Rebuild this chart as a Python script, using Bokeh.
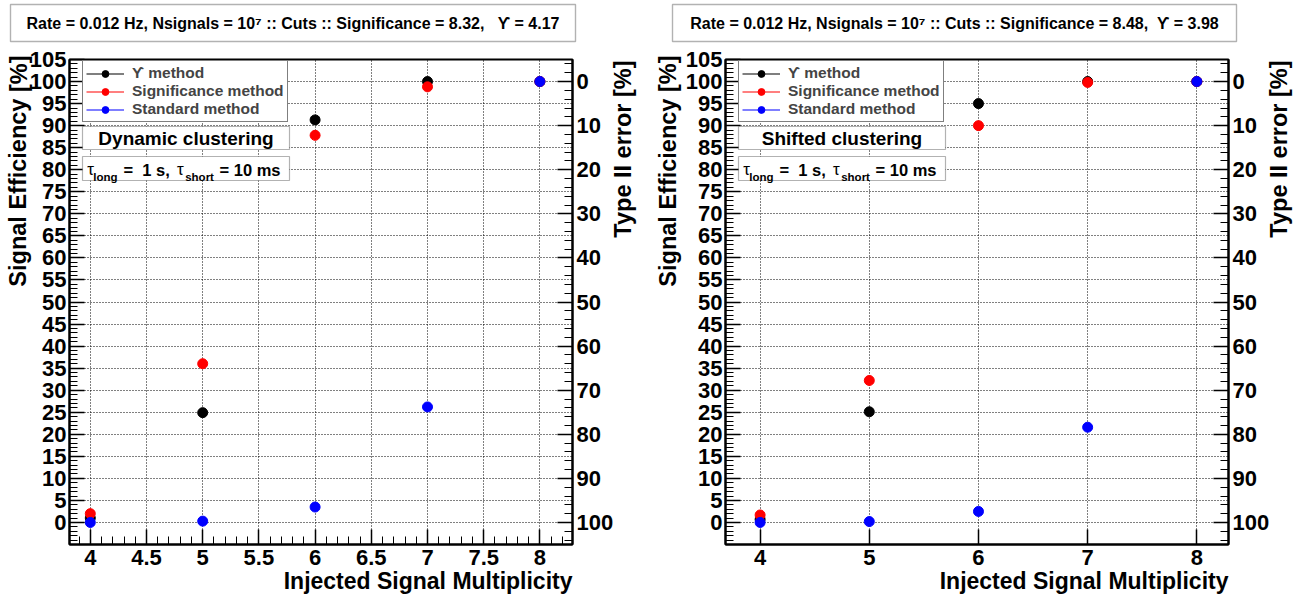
from bokeh.plotting import figure
from bokeh.models import (Range1d, LinearAxis, FixedTicker, Label, BoxAnnotation,
                          Legend, LegendItem, ColumnDataSource, GridBox, Plot)
from bokeh.embed import file_html
from bokeh.resources import INLINE

# ---------------------------------------------------------------- data
multiplicity = [4, 5, 6, 7, 8]

# Dynamic clustering: signal efficiency [%] per method
dyn_upsilon = [1.0, 24.9, 91.3, 100.0, 100.0]
dyn_significance = [2.0, 36.0, 87.8, 98.8, 100.0]
dyn_standard = [0.0, 0.3, 3.5, 26.2, 100.0]

# Shifted clustering: signal efficiency [%] per method
shf_upsilon = [0.7, 25.1, 95.0, 100.0, 100.0]
shf_significance = [1.7, 32.2, 90.0, 99.8, 100.0]
shf_standard = [0.0, 0.2, 2.5, 21.6, 100.0]

method_names = ["ϒ method", "Significance method", "Standard method"]
method_colors = ["black", "red", "blue"]

NBSP = "\u00a0"
dyn_title = "Rate = 0.012 Hz, Nsignals = 10⁷ :: Cuts :: Significance = 8.32," + NBSP * 3 + "ϒ = 4.17"
shf_title = "Rate = 0.012 Hz, Nsignals = 10⁷ :: Cuts :: Significance = 8.48," + NBSP * 2 + "ϒ = 3.98"
x_title = "Injected Signal Multiplicity"
y_title = "Signal Efficiency [%]"
err_title = "Type II error [%]"

# axis ticks
eff_major = list(range(0, 106, 5))
eff_minor = list(range(-5, 106, 1))
err_major = list(range(0, 101, 10))
err_minor = list(range(-4, 105, 2))
dyn_x_major = [4, 4.5, 5, 5.5, 6, 6.5, 7, 7.5, 8]
dyn_x_labels = ["4", "4.5", "5", "5.5", "6", "6.5", "7", "7.5", "8"]
dyn_x_minor = [round(3.9 + 0.1 * i, 1) for i in range(44)]
shf_x_major = [4, 5, 6, 7, 8]
shf_x_labels = ["4", "5", "6", "7", "8"]

FONT = "Liberation Sans"
W, H = 649, 601
FRAME_W, FRAME_H = 503, 485
TOP = 59
NAN = float("nan")
HAS_FRAME_ALIGN = hasattr(Plot, "frame_align")


def style_axis(ax, standoff):
    ax.axis_line_width = 2
    ax.axis_line_color = "black"
    ax.major_tick_in = 15
    ax.major_tick_out = 0
    ax.minor_tick_in = 8
    ax.minor_tick_out = 0
    ax.major_tick_line_width = 1.5
    ax.minor_tick_line_width = 1
    ax.major_label_text_font = FONT
    ax.major_label_text_font_style = "bold"
    ax.major_label_text_font_size = "22px"
    ax.major_label_text_color = "black"
    ax.major_label_standoff = standoff


def txt(p, x, y, text, size, bold=True, align="left", baseline="alphabetic",
        angle=0.0, units="screen"):
    p.add_layout(Label(x=x, y=y, x_units=units, y_units=units, text=text,
                       text_font=FONT, text_font_style="bold" if bold else "normal",
                       text_font_size=size, text_align=align, text_baseline=baseline,
                       angle=angle, text_color="black"))


def box(p, left, right, top, bottom, lw=1.2, units="screen"):
    p.add_layout(BoxAnnotation(left=left, right=right, top=top, bottom=bottom,
                               left_units=units, right_units=units,
                               top_units=units, bottom_units=units,
                               fill_color="white", fill_alpha=1.0,
                               line_color="black", line_width=lw))


def panel(left_border, x_lo, x_hi, x_major, x_labels, x_minor, series, cluster_text):
    p = figure(width=W, height=H, x_range=Range1d(x_lo, x_hi), y_range=Range1d(-5, 105),
               output_backend="svg", toolbar_location=None,
               min_border_left=left_border, min_border_right=W - left_border - FRAME_W,
               min_border_top=TOP, min_border_bottom=H - TOP - FRAME_H,
               outline_line_color="black", outline_line_width=2,
               background_fill_color="white", border_fill_color="white")
    if HAS_FRAME_ALIGN:
        p.frame_align = False

    xa = p.xaxis[0]
    xa.ticker = FixedTicker(ticks=x_major, minor_ticks=x_minor)
    xa.major_label_overrides = {float(v): s for v, s in zip(x_major, x_labels)}
    style_axis(xa, 5)

    ya = p.yaxis[0]
    ya.ticker = FixedTicker(ticks=eff_major, minor_ticks=eff_minor)
    ya.major_label_overrides = {float(v): str(v) for v in eff_major}
    style_axis(ya, 3)

    # Type II error = 100 - efficiency, increasing downwards
    p.extra_y_ranges = {"err": Range1d(start=105, end=-5)}
    ra = LinearAxis(y_range_name="err", ticker=FixedTicker(ticks=err_major, minor_ticks=err_minor))
    ra.major_label_overrides = {float(v): str(v) for v in err_major}
    style_axis(ra, 4)
    p.add_layout(ra, "right")

    for g in (p.xgrid[0], p.ygrid[0]):
        g.grid_line_color = "black"
        g.grid_line_dash = "1 2"
        g.grid_line_width = 1
        g.grid_line_alpha = 1.0
    p.xgrid[0].ticker = FixedTicker(ticks=x_major)
    p.ygrid[0].ticker = FixedTicker(ticks=eff_major)

    items = []
    for name, color, vals in zip(method_names, method_colors, series):
        src = ColumnDataSource(dict(x=multiplicity, y=vals))
        dots = p.scatter("x", "y", source=src, size=10, marker="circle",
                         fill_color=color, line_color=color)
        # line renderer that only contributes the legend stroke
        seg = p.line(x=[NAN], y=[NAN], line_color=color, line_width=1.2)
        items.append(LegendItem(label=name, renderers=[seg, dots]))

    leg = Legend(items=items, location=(13, FRAME_H - 63), orientation="vertical",
                 border_line_color="black", border_line_width=1.2,
                 background_fill_color="white", background_fill_alpha=1.0,
                 padding=3, spacing=0, margin=0, label_height=17, glyph_height=17,
                 glyph_width=38, label_standoff=8,
                 label_text_font=FONT, label_text_font_style="bold",
                 label_text_font_size="15.5px")
    p.add_layout(leg)

    # clustering caption
    box(p, 13, 220, FRAME_H - 67, FRAME_H - 90)
    txt(p, 116.5, FRAME_H - 78.5, cluster_text, "19px", align="center", baseline="middle")

    # time constants caption
    box(p, 13, 220, FRAME_H - 97, FRAME_H - 121)
    base = FRAME_H - 110.3
    sub = FRAME_H - 117.7
    txt(p, 17.7, base, "τ", "17px", bold=False)
    txt(p, 23.7, sub, "long", "11.5px")
    txt(p, 54.0, base, "=" + NBSP * 2 + "1 s,", "16.5px")
    txt(p, 107.4, base, "τ", "17px", bold=False)
    txt(p, 115.7, sub, "short", "11.5px")
    txt(p, 150.0, base, "= 10 ms", "16.5px")
    return p


left = panel(69, 3.815, 8.29, dyn_x_major, dyn_x_labels, dyn_x_minor,
             [dyn_upsilon, dyn_significance, dyn_standard], "Dynamic clustering")
right = panel(76, 3.683, 8.29, shf_x_major, shf_x_labels, [],
              [shf_upsilon, shf_significance, shf_standard], "Shifted clustering")

# transparent page-sized layer for the headers and axis titles (page pixel units)
page = figure(width=2 * W, height=H, x_range=Range1d(0, 2 * W), y_range=Range1d(H, 0),
              output_backend="svg", toolbar_location=None,
              x_axis_type=None, y_axis_type=None, min_border=0,
              outline_line_color=None, background_fill_color=None, border_fill_color=None)
if HAS_FRAME_ALIGN:
    page.frame_align = False

headers = ((0, dyn_title, 69, 10, 575), (W, shf_title, W + 76, 672, 1236))
for x0, title, frame_left, bl, br in headers:
    box(page, bl, br, 4, 41, lw=1.4, units="data")
    txt(page, (bl + br) / 2, 23, title, "16px", align="center", baseline="middle", units="data")
    frame_right = frame_left + FRAME_W
    txt(page, x0 + 18, TOP - 4, y_title, "23.5px", align="right", baseline="middle",
        angle=1.5707963, units="data")
    txt(page, frame_right + 50, TOP + 1, err_title, "23.5px", align="right", baseline="middle",
        angle=1.5707963, units="data")
    txt(page, frame_right, 580, x_title, "23px", align="right", baseline="middle", units="data")

layout = GridBox(children=[(left, 0, 0), (right, 0, 1), (page, 0, 0, 1, 2)])
open("out.html", "w").write(file_html(layout, INLINE))
